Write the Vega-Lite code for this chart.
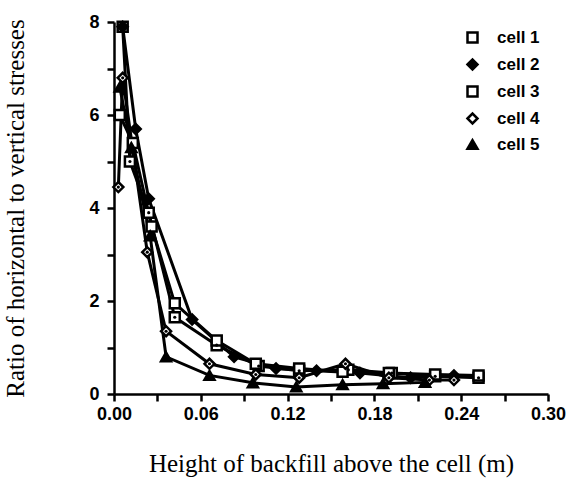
{
  "$schema": "https://vega.github.io/schema/vega-lite/v6.json",
  "width": 434,
  "height": 372,
  "autosize": "none",
  "padding": {"left": 114, "top": 22, "right": 24, "bottom": 95},
  "background": "white",
  "config": {
    "view": {"stroke": null},
    "axis": {
      "grid": false,
      "domainColor": "black",
      "domainWidth": 2.5,
      "tickColor": "black",
      "tickWidth": 2.5,
      "labelColor": "black",
      "titleColor": "black",
      "labelFont": "Liberation Sans",
      "labelFontWeight": "bold",
      "labelFontSize": 18,
      "labelFlush": false,
      "titleFont": "Liberation Serif",
      "titleFontWeight": "normal",
      "titleFontSize": 25
    },
    "legend": {
      "labelFont": "Liberation Sans",
      "labelFontSize": 17,
      "labelFontWeight": "bold",
      "labelColor": "black"
    }
  },
  "data": {
    "values": [
      {"cell": "cell 1", "x": 0.006, "y": 7.9},
      {"cell": "cell 1", "x": 0.011, "y": 5.0},
      {"cell": "cell 1", "x": 0.024, "y": 3.9},
      {"cell": "cell 1", "x": 0.042, "y": 1.65},
      {"cell": "cell 1", "x": 0.071, "y": 1.05},
      {"cell": "cell 1", "x": 0.1, "y": 0.6},
      {"cell": "cell 1", "x": 0.128, "y": 0.5},
      {"cell": "cell 1", "x": 0.162, "y": 0.52},
      {"cell": "cell 1", "x": 0.192, "y": 0.45},
      {"cell": "cell 1", "x": 0.222, "y": 0.38},
      {"cell": "cell 1", "x": 0.252, "y": 0.35},

      {"cell": "cell 2", "x": 0.006, "y": 7.9},
      {"cell": "cell 2", "x": 0.015, "y": 5.7},
      {"cell": "cell 2", "x": 0.024, "y": 4.2},
      {"cell": "cell 2", "x": 0.054, "y": 1.6},
      {"cell": "cell 2", "x": 0.083, "y": 0.8},
      {"cell": "cell 2", "x": 0.112, "y": 0.55},
      {"cell": "cell 2", "x": 0.14, "y": 0.5},
      {"cell": "cell 2", "x": 0.17, "y": 0.45},
      {"cell": "cell 2", "x": 0.205, "y": 0.35},
      {"cell": "cell 2", "x": 0.235, "y": 0.4},

      {"cell": "cell 3", "x": 0.004, "y": 6.0},
      {"cell": "cell 3", "x": 0.013, "y": 5.4},
      {"cell": "cell 3", "x": 0.026, "y": 3.6},
      {"cell": "cell 3", "x": 0.042, "y": 1.95},
      {"cell": "cell 3", "x": 0.071, "y": 1.15},
      {"cell": "cell 3", "x": 0.098, "y": 0.65},
      {"cell": "cell 3", "x": 0.128, "y": 0.55},
      {"cell": "cell 3", "x": 0.158, "y": 0.48},
      {"cell": "cell 3", "x": 0.19, "y": 0.45},
      {"cell": "cell 3", "x": 0.222, "y": 0.42},
      {"cell": "cell 3", "x": 0.252, "y": 0.4},

      {"cell": "cell 4", "x": 0.003, "y": 4.45},
      {"cell": "cell 4", "x": 0.006, "y": 6.8},
      {"cell": "cell 4", "x": 0.023, "y": 3.05},
      {"cell": "cell 4", "x": 0.036, "y": 1.35},
      {"cell": "cell 4", "x": 0.066, "y": 0.65},
      {"cell": "cell 4", "x": 0.098, "y": 0.42},
      {"cell": "cell 4", "x": 0.128, "y": 0.35},
      {"cell": "cell 4", "x": 0.16, "y": 0.65},
      {"cell": "cell 4", "x": 0.19, "y": 0.35},
      {"cell": "cell 4", "x": 0.218, "y": 0.3},
      {"cell": "cell 4", "x": 0.235, "y": 0.3},

      {"cell": "cell 5", "x": 0.004, "y": 6.6},
      {"cell": "cell 5", "x": 0.012, "y": 5.3},
      {"cell": "cell 5", "x": 0.025, "y": 3.4},
      {"cell": "cell 5", "x": 0.036, "y": 0.8},
      {"cell": "cell 5", "x": 0.066, "y": 0.4},
      {"cell": "cell 5", "x": 0.096, "y": 0.24},
      {"cell": "cell 5", "x": 0.126, "y": 0.15},
      {"cell": "cell 5", "x": 0.158, "y": 0.2},
      {"cell": "cell 5", "x": 0.186, "y": 0.22},
      {"cell": "cell 5", "x": 0.215, "y": 0.25}
    ]
  },
  "encoding": {
    "x": {
      "field": "x",
      "type": "quantitative",
      "scale": {"domain": [0, 0.3], "nice": false, "zero": false},
      "axis": {
        "title": "Height of backfill above the cell (m)",
        "values": [0, 0.03, 0.06, 0.09, 0.12, 0.15, 0.18, 0.21, 0.24, 0.27, 0.3],
        "labelExpr": "(round(datum.value * 100) % 6 == 0) ? format(datum.value, '.2f') : ''",
        "tickSize": 7,
        "labelPadding": 4,
        "titlePadding": 28
      }
    },
    "y": {
      "field": "y",
      "type": "quantitative",
      "scale": {"domain": [0, 8], "nice": false},
      "axis": {
        "title": "Ratio of horizontal to vertical stresses",
        "values": [0, 1, 2, 3, 4, 5, 6, 7, 8],
        "labelExpr": "(datum.value % 2 == 0) ? datum.value + '' : ''",
        "tickSize": 7,
        "labelPadding": 8,
        "titlePadding": 60
      }
    }
  },
  "layer": [
    {
      "mark": {"type": "line", "color": "black", "strokeWidth": 3},
      "encoding": {"detail": {"field": "cell"}}
    },
    {
      "mark": {"type": "point", "filled": false, "stroke": "black", "strokeWidth": 2.5, "size": 100, "opacity": 1},
      "encoding": {
        "shape": {
          "field": "cell",
          "type": "nominal",
          "scale": {
            "domain": ["cell 1", "cell 2", "cell 3", "cell 4", "cell 5"],
            "range": ["square", "diamond", "square", "diamond", "triangle-up"]
          },
          "legend": {
            "title": null,
            "orient": "none",
            "legendX": 350,
            "legendY": 7,
            "symbolSize": 100,
            "symbolStrokeWidth": 2.5,
            "rowPadding": 6,
            "labelOffset": 16
          }
        },
        "fill": {
          "field": "cell",
          "type": "nominal",
          "scale": {
            "domain": ["cell 1", "cell 2", "cell 3", "cell 4", "cell 5"],
            "range": ["white", "black", "white", "white", "black"]
          },
          "legend": {
            "title": null,
            "orient": "none",
            "legendX": 350,
            "legendY": 7,
            "symbolSize": 100,
            "symbolStrokeWidth": 2.5,
            "rowPadding": 6,
            "labelOffset": 16
          }
        }
      }
    },
    {
      "transform": [{"filter": "datum.cell == 'cell 1' || datum.cell == 'cell 4'"}],
      "mark": {"type": "circle", "color": "black", "size": 10, "opacity": 1}
    }
  ]
}
